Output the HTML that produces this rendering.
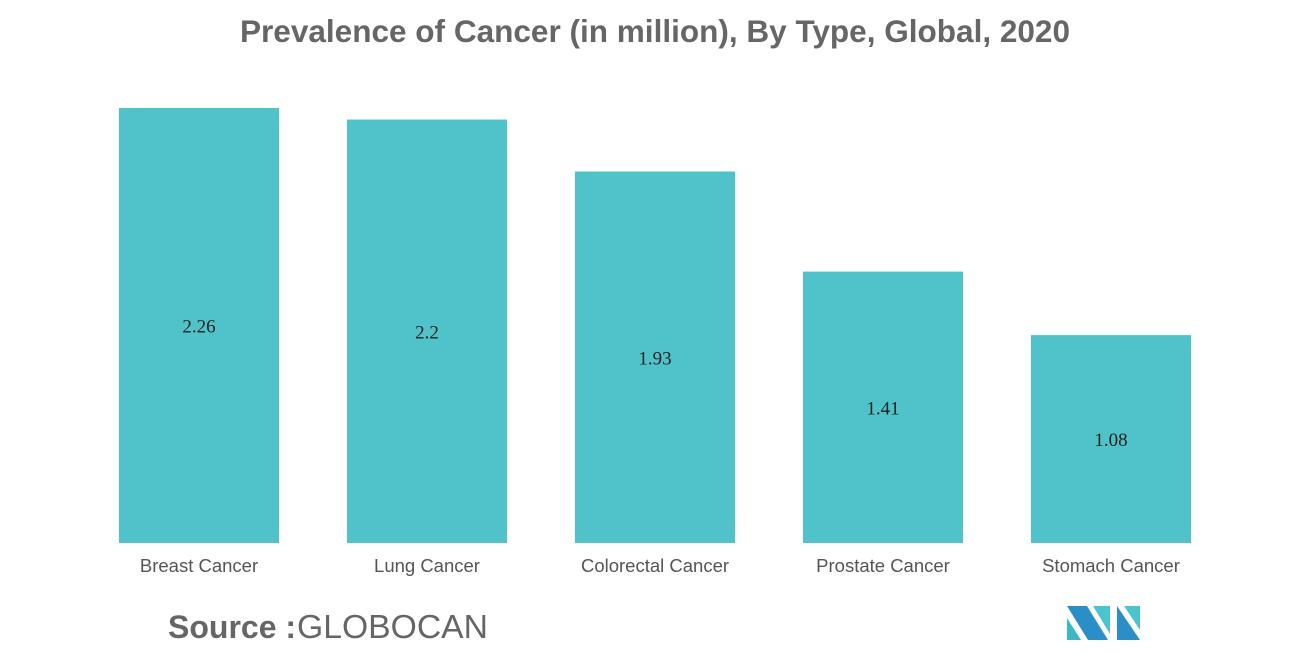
<!DOCTYPE html>
<html><head><meta charset="utf-8"><style>
body{margin:0;background:#fff;}
svg text{font-family:"Liberation Sans",sans-serif;}
</style></head><body>
<svg width="1310" height="655">
<text x="655" y="42" text-anchor="middle" font-size="31.5" font-weight="bold" fill="#666" textLength="830" lengthAdjust="spacingAndGlyphs">Prevalence of Cancer (in million), By Type, Global, 2020</text>
<g id="bars"></g>
<text x="168" y="638" font-size="32" font-weight="bold" fill="#666">Source :</text>
<text x="297" y="638" font-size="33" fill="#666" textLength="191" lengthAdjust="spacingAndGlyphs">GLOBOCAN</text>
<g>
<polygon points="1067,606 1087,606 1108,640 1088,640" fill="#2a8ec7"/>
<polygon points="1067,618 1081,640 1067,640" fill="#3ab9c4"/>
<polygon points="1093,606 1110,606 1110,634" fill="#4cc4cc"/>
<polygon points="1117,606 1140,640 1117,640" fill="#2a8ec7"/>
<polygon points="1124,606 1140,606 1140,630" fill="#4cc4cc"/>
</g>
</svg>
<script>
const categories=["Breast Cancer","Lung Cancer","Colorectal Cancer","Prostate Cancer","Stomach Cancer"];
const values=[2.26,2.2,1.93,1.41,1.08];
const valueLabels=["2.26","2.2","1.93","1.41","1.08"];
const base=543,scale=435/2.26,x0=119,step=228,bw=160;
const y=v=>base-v*scale, x=i=>x0+i*step;
const g=document.getElementById('bars'),ns="http://www.w3.org/2000/svg";
categories.forEach((c,i)=>{
 const r=document.createElementNS(ns,'rect');
 r.setAttribute('x',x(i));r.setAttribute('y',y(values[i]));r.setAttribute('width',bw);r.setAttribute('height',base-y(values[i]));r.setAttribute('fill','#4fc3c9');
 
 
 g.appendChild(r);
 const t=document.createElementNS(ns,'text');
 t.setAttribute('x',x(i)+bw/2);t.setAttribute('y',(y(values[i])+base)/2+7);t.setAttribute('text-anchor','middle');t.setAttribute('font-size','19');t.setAttribute('fill','#222');
 t.setAttribute('style','font-family:"Liberation Serif",serif');
 t.textContent=valueLabels[i];
 
 
 g.appendChild(t);
 const l=document.createElementNS(ns,'text');
 l.setAttribute('x',x(i)+bw/2);l.setAttribute('y',572);l.setAttribute('text-anchor','middle');l.setAttribute('font-size','18.5');l.setAttribute('fill','#555');
 l.textContent=c;
 
 
 g.appendChild(l);
});
</script>
</body></html>
